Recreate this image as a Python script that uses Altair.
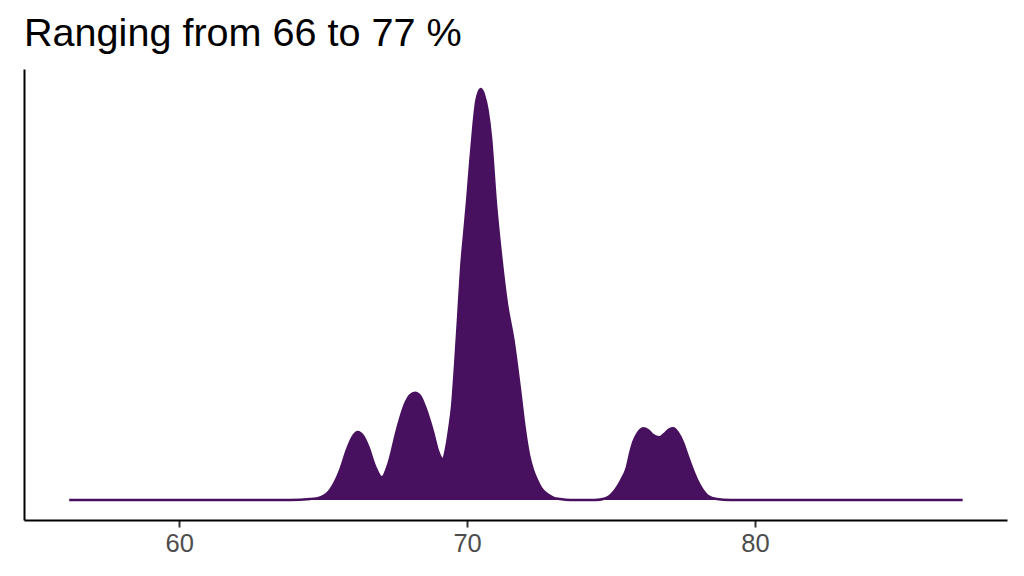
import altair as alt
import pandas as pd

# Density curve (value in %, density)
x_vals = [56.18, 63.85, 64.55, 64.90, 65.24, 65.59, 65.82, 66.01, 66.20, 66.39,
          66.57, 66.81, 67.04, 67.27, 67.56, 67.85, 68.02, 68.19, 68.37, 68.54,
          68.83, 68.99, 69.16, 69.27, 69.38, 69.48, 69.58, 69.69, 69.79, 69.90,
          70.00, 70.10, 70.21, 70.31, 70.40, 70.48, 70.59, 70.71, 70.83, 71.00,
          71.16, 71.38, 71.61, 71.84, 72.01, 72.15, 72.29, 72.43, 72.57, 72.78,
          72.99, 73.23, 73.58, 74.44, 74.79, 75.14, 75.35, 75.55, 75.66, 75.77,
          75.90, 76.01, 76.12, 76.28, 76.46, 76.67, 76.84, 77.01, 77.16, 77.33,
          77.51, 77.64, 77.80, 77.99, 78.15, 78.37, 78.67, 79.13, 87.21]
dens_vals = [0.000, 0.000, 0.001, 0.0027, 0.010, 0.030, 0.050, 0.0626, 0.068, 0.064,
             0.0533, 0.0333, 0.0227, 0.0367, 0.070, 0.0967, 0.105, 0.1073, 0.104, 0.0933,
             0.0667, 0.049, 0.0407, 0.052, 0.072, 0.095, 0.135, 0.185, 0.232, 0.268,
             0.300, 0.336, 0.372, 0.398, 0.408, 0.411, 0.405, 0.390, 0.363, 0.297,
             0.250, 0.197, 0.160, 0.110, 0.070, 0.045, 0.030, 0.020, 0.012, 0.006,
             0.0025, 0.001, 0.000, 0.000, 0.0015, 0.010, 0.020, 0.033, 0.047, 0.058,
             0.066, 0.070, 0.0717, 0.070, 0.065, 0.0627, 0.066, 0.0705, 0.0717, 0.067,
             0.0567, 0.046, 0.0333, 0.020, 0.0117, 0.004, 0.001, 0.000, 0.000]
x_ticks = [60, 70, 80]
title_text = "Ranging from 66 to 77 %"

df = pd.DataFrame({"x": x_vals, "density": dens_vals})

FILL = "#48115F"

chart = alt.Chart(df).mark_area(
    color=FILL,
    opacity=1,
    interpolate="monotone",
    line={"color": FILL, "strokeWidth": 2.4},
).encode(
    x=alt.X("x:Q",
            scale=alt.Scale(domain=[54.61, 88.75], nice=False, zero=False),
            axis=alt.Axis(values=x_ticks, title=None, grid=False,
                          domainColor="#000000", domainWidth=2,
                          tickColor="#333333", tickWidth=2, tickSize=7,
                          labelFontSize=25.5, labelColor="#4D4D4D",
                          labelFont="Liberation Sans", labelPadding=4)),
    y=alt.Y("density:Q",
            scale=alt.Scale(domain=[-0.020, 0.431], nice=False, zero=False),
            axis=alt.Axis(title=None, labels=False, ticks=False, grid=False,
                          domainColor="#000000", domainWidth=2)),
).properties(
    width=983,
    height=451,
    view=alt.ViewBackground(stroke="transparent", strokeWidth=0),
    title=alt.TitleParams(title_text, anchor="start", fontSize=39.6,
                          font="Liberation Sans", fontWeight="normal",
                          color="#000000", offset=14),
    autosize=alt.AutoSizeParams(type="none"),
    padding={"left": 16, "top": 61, "right": 9, "bottom": 48},
).configure_view(stroke="transparent", strokeWidth=0).configure(background="white")

chart.save("out.html", embed_options={"renderer": "svg", "actions": False})
